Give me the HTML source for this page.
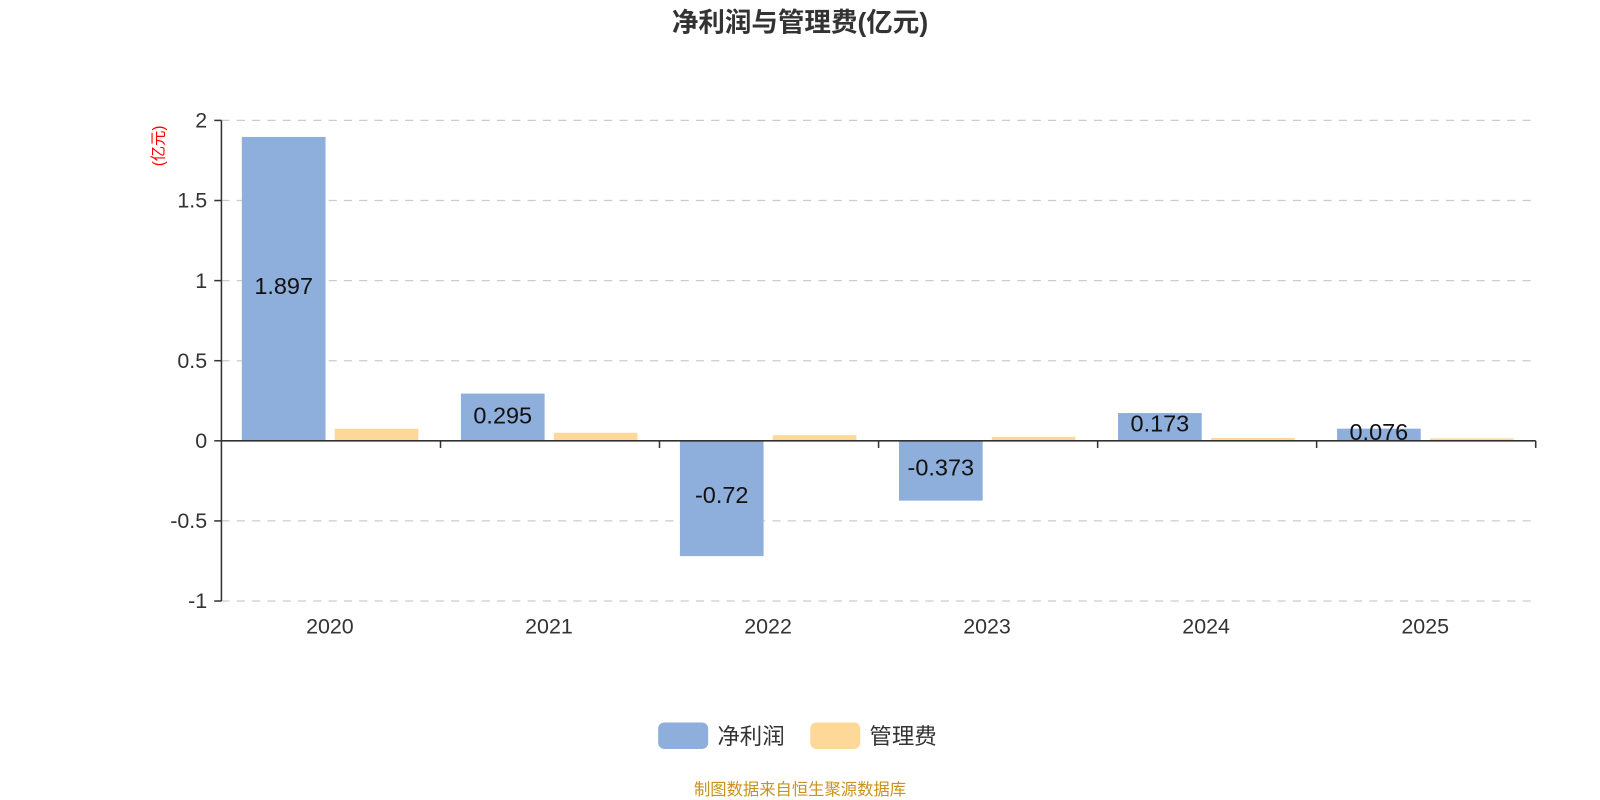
<!DOCTYPE html>
<html><head><meta charset="utf-8"><style>html,body{margin:0;padding:0;background:#fff}svg{display:block}</style></head>
<body>
<svg width="1600" height="800" viewBox="0 0 1568 784" xmlns="http://www.w3.org/2000/svg" font-family="'Liberation Sans','Noto Sans CJK SC',sans-serif">
<text x="784" y="31" text-anchor="middle" font-size="26" font-weight="bold" fill="#333">净利润与管理费(亿元)</text>
<g stroke="#ccc" stroke-width="1.2" stroke-dasharray="8,7">
<line x1="217" y1="118" x2="1505" y2="118"/>
<line x1="217" y1="196.5" x2="1505" y2="196.5"/>
<line x1="217" y1="275" x2="1505" y2="275"/>
<line x1="217" y1="353.5" x2="1505" y2="353.5"/>
<line x1="217" y1="510.5" x2="1505" y2="510.5"/>
<line x1="217" y1="589" x2="1505" y2="589"/>
</g>
<text transform="translate(160,143) rotate(-90)" text-anchor="middle" font-size="15" fill="#f00">(亿元)</text>
<g font-size="21" fill="#333" text-anchor="end">
<text x="203" y="125">2</text>
<text x="203" y="203.5">1.5</text>
<text x="203" y="282">1</text>
<text x="203" y="360.5">0.5</text>
<text x="203" y="439">0</text>
<text x="203" y="517.5">-0.5</text>
<text x="203" y="596">-1</text>
</g>
<g fill="#8eaedb">
<rect x="237" y="134.2" width="82" height="297.8"/>
<rect x="451.7" y="385.7" width="82" height="46.3"/>
<rect x="666.3" y="432" width="82" height="113"/>
<rect x="881" y="432" width="82" height="58.6"/>
<rect x="1095.7" y="404.8" width="82" height="27.2"/>
<rect x="1310.3" y="420.1" width="82" height="11.9"/>
</g>
<g fill="#fed898">
<rect x="328" y="420.2" width="82" height="11.8"/>
<rect x="542.7" y="424.1" width="82" height="7.9"/>
<rect x="757.3" y="426.5" width="82" height="5.5"/>
<rect x="972" y="428.1" width="82" height="3.9"/>
<rect x="1186.7" y="429.2" width="82" height="2.8"/>
<rect x="1401.3" y="429.6" width="82" height="2.4"/>
</g>
<g font-size="23" fill="#111" text-anchor="middle">
<text x="278" y="288">1.897</text>
<text x="492.7" y="415">0.295</text>
<text x="707.3" y="493">-0.72</text>
<text x="922" y="466">-0.373</text>
<text x="1136.7" y="423">0.173</text>
<text x="1351.3" y="431">0.076</text>
</g>
<g stroke="#333" stroke-width="1.5" fill="none">
<line x1="217" y1="118" x2="217" y2="589"/>
<line x1="210" y1="118" x2="217" y2="118"/>
<line x1="210" y1="196.5" x2="217" y2="196.5"/>
<line x1="210" y1="275" x2="217" y2="275"/>
<line x1="210" y1="353.5" x2="217" y2="353.5"/>
<line x1="210" y1="432" x2="217" y2="432"/>
<line x1="210" y1="510.5" x2="217" y2="510.5"/>
<line x1="210" y1="589" x2="217" y2="589"/>
<line x1="217" y1="432" x2="1505" y2="432"/>
<line x1="431.7" y1="432" x2="431.7" y2="439"/>
<line x1="646.3" y1="432" x2="646.3" y2="439"/>
<line x1="861" y1="432" x2="861" y2="439"/>
<line x1="1075.7" y1="432" x2="1075.7" y2="439"/>
<line x1="1290.3" y1="432" x2="1290.3" y2="439"/>
<line x1="1505" y1="432" x2="1505" y2="439"/>
</g>
<g font-size="21" fill="#333" text-anchor="middle">
<text x="323.3" y="621">2020</text>
<text x="538" y="621">2021</text>
<text x="752.7" y="621">2022</text>
<text x="967.3" y="621">2023</text>
<text x="1182" y="621">2024</text>
<text x="1396.7" y="621">2025</text>
</g>
<rect x="645" y="708" width="49" height="26" rx="6" fill="#8eaedb"/>
<text x="703" y="729" font-size="22" fill="#333">净利润</text>
<rect x="794" y="708" width="49" height="26" rx="6" fill="#fed898"/>
<text x="852" y="729" font-size="22" fill="#333">管理费</text>
<text x="784" y="779" text-anchor="middle" font-size="16" fill="#c8921e">制图数据来自恒生聚源数据库</text>
</svg>
</body></html>
